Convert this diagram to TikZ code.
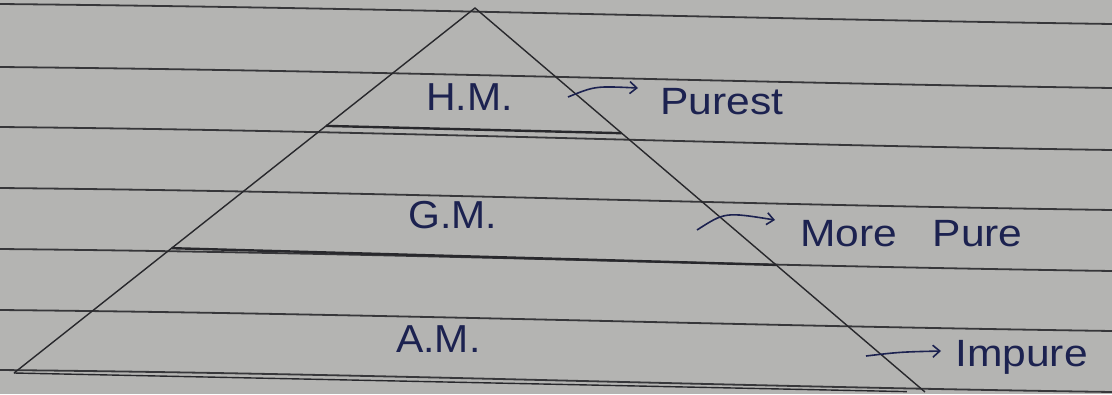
\documentclass[tikz,border=0pt]{standalone}
\usepackage{fontspec}
\setmainfont{Liberation Sans}
\usetikzlibrary{arrows.meta,calc}
\definecolor{paper}{RGB}{180,180,178}
\definecolor{rule}{RGB}{55,55,58}
\definecolor{pencil}{RGB}{40,40,44}
\definecolor{ink}{RGB}{28,34,80}
\tikzset{
  ruled/.style={draw=rule, line width=1.8pt},
  pyr/.style={draw=pencil, line width=1.4pt},
  label/.style={text=ink, font=\fontsize{39}{44}\selectfont, inner sep=0pt, anchor=base west, xscale=1.05},
  note/.style={text=ink, font=\fontsize{38}{44}\selectfont, inner sep=0pt, anchor=base west, xscale=1.12},
  pointer/.style={draw=ink, line width=1.6pt, -{Straight Barb[length=7pt,width=12pt]}}
}
\begin{document}
\begin{tikzpicture}[x=1pt,y=-1pt]
\fill[paper] (0,0) rectangle (1112,394);
\useasboundingbox (0,0) rectangle (1112,394);
% ruled paper lines
\foreach \a/\b in {4/24, 67/88, 127/150, 188/210, 249/271, 310/331, 370/392}
  \draw[ruled] (0,\a) .. controls (400,\a+4) and (700,\b-6) .. (1112,\b);
% pyramid
\coordinate (apex) at (475,8);
\coordinate (bl) at (14,373);
\coordinate (br) at (925,392);
\draw[pyr] (bl) -- (apex) -- (br);
\draw[pyr] (bl) -- ($(br)!0.02!(bl)$);
\coordinate (d1l) at ($(apex)!0.323!(bl)$);
\coordinate (d1r) at ($(apex)!0.326!(br)$);
\coordinate (d2l) at ($(apex)!0.658!(bl)$);
\coordinate (d2r) at ($(apex)!0.669!(br)$);
\draw[pyr, line width=2.4pt] (d1l) -- (d1r);
\draw[pyr, line width=2.4pt] (d2l) -- (d2r);
% labels
\node[label] (hm) at (426,110) {H.M.};
\node[label] (gm) at (408,228) {G.M.};
\node[label] (am) at (396,352) {A.M.};
\node[note] (purest) at (660,114) {Purest};
\node[note] (morepure) at (800,246) {More\ \ \ Pure};
\node[note] (impure) at (955,366) {Impure};
% arrows
\coordinate (s1) at (568,97);
\coordinate (t1) at (638,88);
\coordinate (s2) at (697,230);
\coordinate (t2) at (775,220);
\coordinate (s3) at (866,356);
\coordinate (t3) at (941,351);
\draw[pointer] (s1) .. controls (595,86) .. (t1);
\draw[pointer] (s2) .. controls (725,212) .. (t2);
\draw[pointer] (s3) .. controls (900,352) .. (t3);
\end{tikzpicture}
\end{document}
